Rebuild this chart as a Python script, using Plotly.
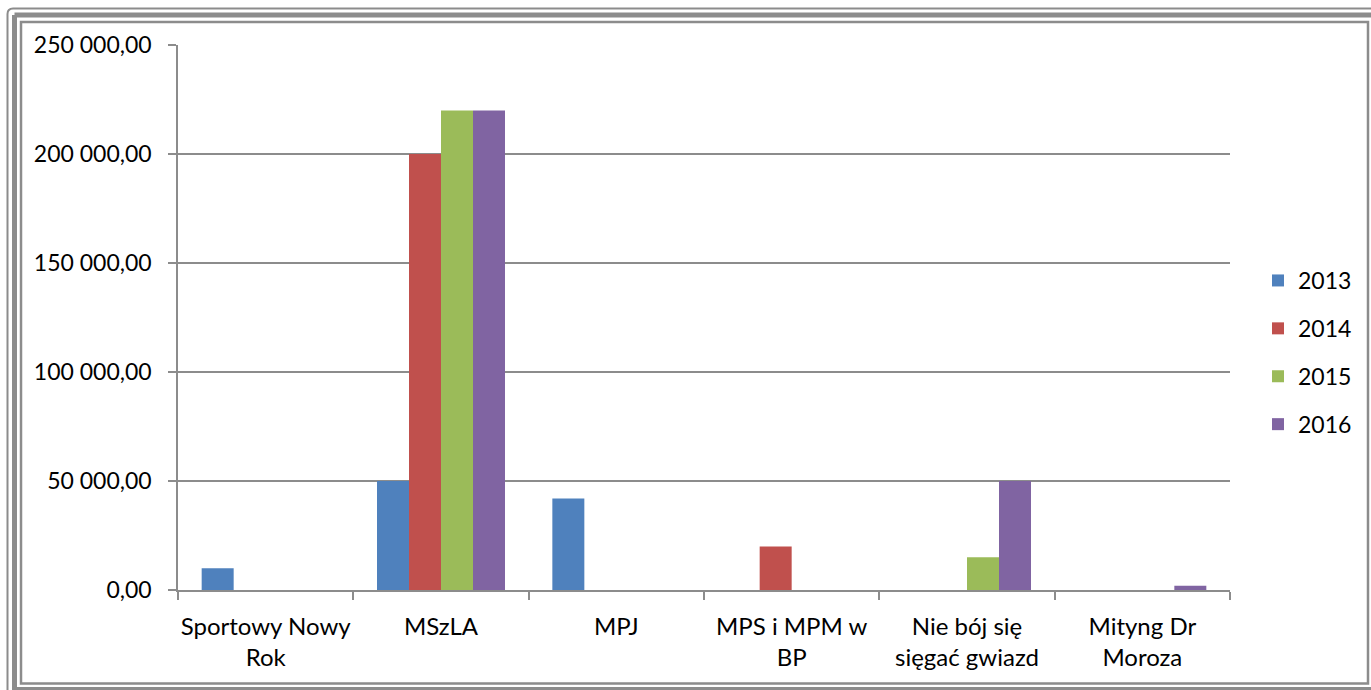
import plotly.graph_objects as go

categories = ["Sportowy Nowy<br>Rok", "MSzLA", "MPJ", "MPS i MPM w<br>BP", "Nie bój się<br>sięgać gwiazd", "Mityng Dr<br>Moroza"]
years = ["2013", "2014", "2015", "2016"]
v2013 = [10000, 50000, 42000, 0, 0, 0]
v2014 = [0, 200000, 0, 20000, 0, 0]
v2015 = [0, 220000, 0, 0, 15000, 0]
v2016 = [0, 220000, 0, 0, 50000, 2000]
series = [v2013, v2014, v2015, v2016]
colors = ["#4F81BD", "#C0504D", "#9BBB59", "#8064A2"]
y_ticks = [0, 50000, 100000, 150000, 200000, 250000]

W, H = 1371, 690
L, R, T, B = 178, 1230, 45, 590

fig = go.Figure()
for name, vals, col in zip(years, series, colors):
    fig.add_trace(go.Bar(x=categories, y=vals, name=name, marker_color=col,
                         marker_line_width=0, legendgroup=name))

def px(x):
    return (x - L) / (R - L)

def py(y):
    return (B - y) / (B - T)

frame = "#8c8c8c"
shapes = [
    dict(type="rect", xref="paper", yref="paper", x0=px(21), x1=px(1368), y0=py(22), y1=py(683.5),
         line=dict(color=frame, width=2.5), layer="below"),
    dict(type="line", xref="paper", yref="paper", x0=px(14.5), x1=px(14.5), y0=py(15), y1=py(700),
         line=dict(color=frame, width=5)),
    dict(type="line", xref="paper", yref="paper", x0=px(14.5), x1=px(1380), y0=py(15), y1=py(15),
         line=dict(color=frame, width=5)),
    dict(type="line", xref="paper", yref="paper", x0=px(12), x1=px(1380), y0=py(689), y1=py(689),
         line=dict(color=frame, width=4)),
    dict(type="line", xref="paper", yref="paper", x0=px(7.5), x1=px(7.5), y0=py(14), y1=py(700),
         line=dict(color=frame, width=2)),
    dict(type="line", xref="paper", yref="paper", x0=px(13), x1=px(1380), y0=py(8.5), y1=py(8.5),
         line=dict(color=frame, width=2)),
    dict(type="path", xref="paper", yref="paper",
         path=f"M {px(7.5)},{py(14)} Q {px(7.5)},{py(8.5)} {px(13)},{py(8.5)}",
         line=dict(color=frame, width=2)),
]

fig.update_layout(
    width=W, height=H,
    margin=dict(l=L, r=W - R, t=T, b=H - B, autoexpand=False),
    paper_bgcolor="white", plot_bgcolor="white",
    font=dict(family="Lato, 'Open Sans', sans-serif", size=23, color="black"),
    separators=", ",
    barmode="group", bargap=0.27, bargroupgap=0,
    showlegend=True,
    legend=dict(x=px(1258), y=py(259), xanchor="left", yanchor="top",
                font=dict(size=23), tracegroupgap=15, itemwidth=30,
                bgcolor="rgba(0,0,0,0)"),
    shapes=shapes,
)
fig.update_xaxes(type="category", showline=True, linecolor=frame, linewidth=1.5,
                 ticks="outside", tickson="boundaries", ticklen=8, tickcolor=frame,
                 tickwidth=1.5, showgrid=False, tickfont=dict(size=24),
                 tickangle=0, ticklabelstandoff=14)
fig.update_yaxes(range=[0, 250000], tickvals=y_ticks, tickformat=",.2f",
                 showline=True, linecolor=frame, linewidth=1.5,
                 ticks="outside", ticklen=8, tickcolor=frame, tickwidth=1.5,
                 showgrid=True, gridcolor=frame, gridwidth=1.5,
                 zeroline=False, ticklabelstandoff=12, tickfont=dict(size=23))

fig.write_html("out.html", config={"displayModeBar": False},
               post_script="document.body.style.margin='0';document.body.style.overflow='hidden';")
